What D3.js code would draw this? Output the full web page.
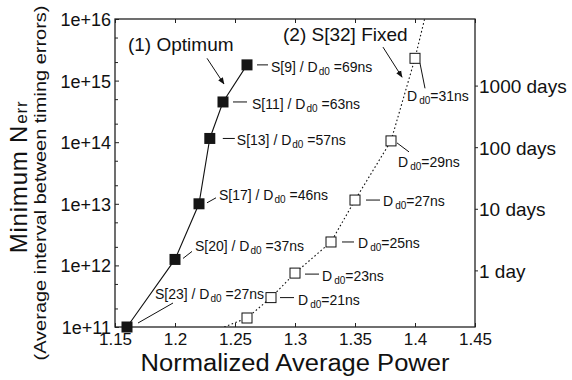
<!DOCTYPE html>
<html>
<head>
<meta charset="utf-8">
<script src="https://cdn.jsdelivr.net/npm/d3@7"></script>
<style>
  body { margin: 0; background: #fff; }
  svg { display: block; font-family: "Liberation Sans", Arial, Helvetica, sans-serif; }
  .axis path.domain { display: none; }
  .axis line { stroke: #222; }
  .axis text { fill: #111; }
</style>
</head>
<body>
<div id="chart"></div>
<script>
var width = 572,
	height = 380;

// (1) optimum: stage count and D_d0 chosen per point
var optPower = [1.16, 1.20, 1.22, 1.229, 1.24, 1.26];
var optNerr = [1e11, 1.25e12, 1e13, 1.15e14, 4.5e14, 1.8e15];
var optStage = [23, 20, 17, 13, 11, 9];
var optDelay = [27, 37, 46, 57, 63, 69];

// (2) S[32] fixed
var fixPower = [1.26, 1.28, 1.30, 1.33, 1.35, 1.38, 1.40];
var fixNerr = [1.4e11, 3e11, 7.5e11, 2.4e12, 1.15e13, 1.05e14, 2.3e15];
var fixDelay = [null, 21, 23, 25, 27, 29, 31];
// where the dotted line leaves the frame
var fixLineStart = [1.241, 1e11],
	fixLineEnd = [1.408, 1e16];

var xTicks = [1.15, 1.2, 1.25, 1.3, 1.35, 1.4, 1.45];
var xTickLabels = ['1.15', '1.2', '1.25', '1.3', '1.35', '1.4', '1.45'];
var yExps = [11, 12, 13, 14, 15, 16];
var dayTicks = [1, 10, 100, 1000];
var dayLabels = ['1 day', '10 days', '100 days', '1000 days'];
var errPerDay = 8.3e11;

// label offsets (px) from each marker, same order as the data
var optLeader = [[11, -4, 46, -24], [8, -1, 17, -8], [8, -1, 17, -6], [13, 0, 25, 0], [10, 0, 24, 0], [10, 0, 21, 0]];
var optText = [[28, -28], [20, -8], [20, -4], [27, 7], [29, 7], [24, 7]];
var fixLeader = [null, [9, 0, 23, 0], [10, 1, 24, 1], [11, 0, 23, 0], [11, 0, 25, 0], [6, 2, 18, 11], [5, 5, 10, 30]];
var fixText = [null, [27, 7], [27, 8], [27, 6.5], [28, 6], [7, 26], [-8, 43]];

var m = {left: 115, right: 97, top: 19, bottom: 53};

var x = d3.scaleLinear()
	.domain([1.15, 1.45])
	.range([m.left, width - m.right]);

var y = d3.scaleLog()
	.domain([1e11, 1e16])
	.range([height - m.bottom, m.top]);

var yDays = d3.scaleLog()
	.domain([1e11 / errPerDay, 1e16 / errPerDay])
	.range(y.range());

var svg = d3.select('#chart').append('svg')
	.attr('width', width)
	.attr('height', height);

var defs = svg.append('defs');
defs.append('clipPath').attr('id', 'clip')
	.append('rect')
	.attr('x', x(1.15)).attr('y', y(1e16))
	.attr('width', x(1.45) - x(1.15)).attr('height', y(1e11) - y(1e16));
defs.append('marker')
	.attr('id', 'arrow')
	.attr('viewBox', '0 0 10 10')
	.attr('refX', 9).attr('refY', 5)
	.attr('markerWidth', 7).attr('markerHeight', 7)
	.attr('markerUnits', 'userSpaceOnUse')
	.attr('orient', 'auto')
	.append('path')
	.attr('d', 'M0,1L10,5L0,9Z')
	.attr('fill', '#111');

// axes
svg.append('g').attr('class', 'axis')
	.attr('transform', 'translate(0,' + y(1e11) + ')')
	.call(d3.axisBottom(x).tickValues(xTicks).tickSize(-4).tickPadding(6)
		.tickFormat(function(d, i) { return xTickLabels[i]; }))
	.selectAll('text').attr('font-size', 17).attr('dy', '0.72em');

svg.append('g').attr('class', 'axis')
	.attr('transform', 'translate(0,' + y(1e16) + ')')
	.call(d3.axisTop(x).tickValues(xTicks).tickSize(-4).tickFormat(''));

svg.append('g').attr('class', 'axis')
	.attr('transform', 'translate(' + x(1.15) + ',0)')
	.call(d3.axisLeft(y).tickValues(yExps.map(function(e) { return Math.pow(10, e); }))
		.tickSize(-4).tickPadding(4)
		.tickFormat(function(d) { return '1e+' + Math.round(Math.log10(d)); }))
	.selectAll('text').attr('font-size', 18).attr('dy', '0.36em');

var minor = [];
yExps.slice(0, -1).forEach(function(e) {
	minor.push(2 * Math.pow(10, e), 5 * Math.pow(10, e));
});
svg.append('g').attr('class', 'axis')
	.attr('transform', 'translate(' + x(1.15) + ',0)')
	.call(d3.axisLeft(y).tickValues(minor).tickSize(-3).tickFormat(''));

svg.append('g').attr('class', 'axis')
	.attr('transform', 'translate(' + x(1.45) + ',0)')
	.call(d3.axisRight(yDays).tickValues(dayTicks).tickSize(3).tickPadding(1)
		.tickFormat(function(d, i) { return dayLabels[i]; }))
	.selectAll('text').attr('font-size', 19).attr('dy', '0.36em');

// frame
svg.append('rect')
	.attr('x', x(1.15)).attr('y', y(1e16))
	.attr('width', x(1.45) - x(1.15)).attr('height', y(1e11) - y(1e16))
	.attr('fill', 'none').attr('stroke', '#222').attr('stroke-width', 1.3);

// axis titles
svg.append('text')
	.attr('x', x(1.30)).attr('y', 371)
	.attr('text-anchor', 'middle')
	.attr('font-size', 23)
	.attr('textLength', 309).attr('lengthAdjust', 'spacingAndGlyphs')
	.attr('fill', '#111')
	.text('Normalized Average Power');

var yt = svg.append('text')
	.attr('transform', 'translate(27,177) rotate(-90)')
	.attr('text-anchor', 'middle')
	.attr('font-size', 24)
	.attr('letter-spacing', 0.8)
	.attr('fill', '#111');
yt.append('tspan').text('Minimum N');
yt.append('tspan').attr('font-size', 17).attr('dx', 1).text('err');

svg.append('text')
	.attr('transform', 'translate(46,183) rotate(-90)')
	.attr('text-anchor', 'middle')
	.attr('font-size', 17)
	.attr('textLength', 355).attr('lengthAdjust', 'spacingAndGlyphs')
	.attr('fill', '#111')
	.text('(Average interval between timing errors)');

// series
var optData = optPower.map(function(p, i) { return [p, optNerr[i]]; });
var fixData = fixPower.map(function(p, i) { return [p, fixNerr[i]]; });

var line = d3.line()
	.x(function(d) { return x(d[0]); })
	.y(function(d) { return y(d[1]); });

svg.append('path')
	.datum([fixLineStart].concat(fixData, [fixLineEnd]))
	.attr('clip-path', 'url(#clip)')
	.attr('d', line)
	.attr('fill', 'none')
	.attr('stroke', '#111')
	.attr('stroke-width', 1.1)
	.attr('stroke-dasharray', '1.6,2.4');

svg.append('path')
	.datum(optData)
	.attr('d', line)
	.attr('fill', 'none')
	.attr('stroke', '#111')
	.attr('stroke-width', 1.1);

svg.append('g').selectAll('rect')
	.data(fixData)
	.enter().append('rect')
	.attr('x', function(d) { return x(d[0]) - 5; })
	.attr('y', function(d) { return y(d[1]) - 5; })
	.attr('width', 10).attr('height', 10)
	.attr('fill', '#fff').attr('stroke', '#111').attr('stroke-width', 1);

svg.append('g').selectAll('rect')
	.data(optData)
	.enter().append('rect')
	.attr('x', function(d) { return x(d[0]) - 5.5; })
	.attr('y', function(d) { return y(d[1]) - 5.5; })
	.attr('width', 11).attr('height', 11)
	.attr('fill', '#151515');

// point labels
var labels = svg.append('g').attr('fill', '#111');

optData.forEach(function(d, i) {
	var px = x(d[0]), py = y(d[1]), l = optLeader[i], t = optText[i];
	labels.append('line')
		.attr('x1', px + l[0]).attr('y1', py + l[1])
		.attr('x2', px + l[2]).attr('y2', py + l[3])
		.attr('stroke', '#111').attr('stroke-width', 1);
	var tx = labels.append('text')
		.attr('x', px + t[0]).attr('y', py + t[1])
		.attr('font-size', 14);
	tx.append('tspan').text('S[' + optStage[i] + '] / D');
	tx.append('tspan').attr('font-size', 10).attr('dx', 1).attr('dy', 3).text('d0');
	tx.append('tspan').attr('dy', -3).text(' =' + optDelay[i] + 'ns');
});

fixData.forEach(function(d, i) {
	if (fixDelay[i] == null) return;
	var px = x(d[0]), py = y(d[1]), l = fixLeader[i], t = fixText[i];
	labels.append('line')
		.attr('x1', px + l[0]).attr('y1', py + l[1])
		.attr('x2', px + l[2]).attr('y2', py + l[3])
		.attr('stroke', '#111').attr('stroke-width', 1);
	var tx = labels.append('text')
		.attr('x', px + t[0]).attr('y', py + t[1])
		.attr('font-size', 14);
	tx.append('tspan').text('D');
	tx.append('tspan').attr('font-size', 10).attr('dx', 2).attr('dy', 3).text('d0');
	tx.append('tspan').attr('dy', -3).text('=' + fixDelay[i] + 'ns');
});

// series annotations
var notes = [
	{text: '(1) Optimum', at: [1.1608, 3.0e15], from: [1.2267, 2.3e15], to: [1.2408, 8.8e14]},
	{text: '(2) S[32] Fixed', at: [1.29, 4.4e15], from: [1.3733, 3.5e15], to: [1.3892, 1.14e15]}
];
notes.forEach(function(n) {
	svg.append('text')
		.attr('x', x(n.at[0])).attr('y', y(n.at[1]))
		.attr('font-size', 19).attr('fill', '#111')
		.text(n.text);
	svg.append('line')
		.attr('x1', x(n.from[0])).attr('y1', y(n.from[1]))
		.attr('x2', x(n.to[0])).attr('y2', y(n.to[1]))
		.attr('stroke', '#111').attr('stroke-width', 1)
		.attr('marker-end', 'url(#arrow)');
});
</script>
</body>
</html>
